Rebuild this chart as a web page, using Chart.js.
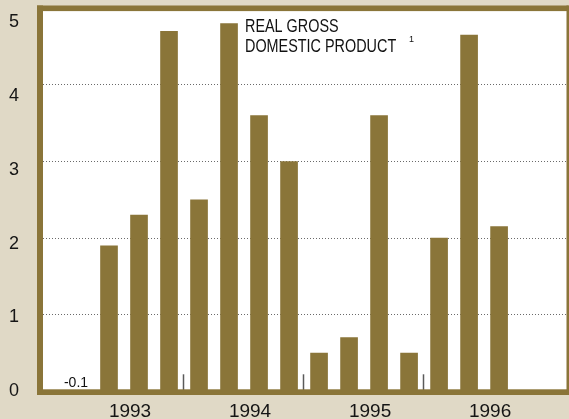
<!DOCTYPE html>
<html lang="en">
<head>
<meta charset="UTF-8">
<script src="https://cdn.jsdelivr.net/npm/chart.js"></script>
<title>Real GDP</title>
<style>
  html, body { margin: 0; padding: 0; background: #e0d9c6; }
  canvas { display: block; }
</style>
</head>
<body>
<canvas id="myChart" width="569" height="419"></canvas>
<script>
// quarterly change, percent, 1993 Q1 .. 1996 Q4
const years = ['1993', '1994', '1995', '1996'];
const gdp = [-0.1, 1.9, 2.3, 4.7,
             2.5, 4.8, 3.6, 3.0,
             0.5, 0.7, 3.6, 0.5,
             2.0, 4.65, 2.15, null];
const yTicks = [0, 1, 2, 3, 4, 5];

const olive = '#8a7539';
const font = '"Liberation Sans", Arial, sans-serif';

// no automatic label padding around the plot
const noPad = s => {
  s.paddingTop = 0; s.paddingBottom = 0;
  s.paddingLeft = 0; s.paddingRight = 0;
};

const decor = {
  id: 'decor',
  beforeDraw(chart) {
    const { ctx, chartArea: a } = chart;
    ctx.save();
    ctx.fillStyle = '#ffffff';
    ctx.fillRect(a.left, a.top, a.right - a.left, a.bottom - a.top);
    ctx.restore();
  },
  afterDatasetsDraw(chart) {
    const { ctx, chartArea: a } = chart;
    const x = chart.scales.x, y = chart.scales.y;
    ctx.save();

    // year separators
    ctx.strokeStyle = '#5a5a5a';
    ctx.lineWidth = 1.5;
    for (let k = 1; k < years.length; k++) {
      const px = Math.round(x.getPixelForValue(k * 4 - 0.55)) + 0.5;
      ctx.beginPath();
      ctx.moveTo(px, a.bottom - 17);
      ctx.lineTo(px, a.bottom);
      ctx.stroke();
    }

    // frame
    ctx.fillStyle = olive;
    ctx.fillRect(a.left - 3, a.top - 2.8, 6, a.bottom - a.top + 6.5);
    ctx.fillRect(a.left - 3, a.top - 2.8, a.right - a.left + 4, 5.6);
    ctx.fillRect(a.left - 3, a.bottom - 2, a.right - a.left + 4, 5.7);
    ctx.fillRect(a.right - 1, a.top - 2.8, 3, a.bottom - a.top + 6.5);

    // negative value label
    ctx.fillStyle = '#111';
    ctx.font = '14px ' + font;
    ctx.textAlign = 'center';
    ctx.textBaseline = 'alphabetic';
    gdp.forEach((v, i) => {
      if (v !== null && v < 0) {
        ctx.fillText(v.toFixed(1), x.getPixelForValue(i) - 3, y.getPixelForValue(0) - 4);
      }
    });

    // title
    ctx.textAlign = 'left';
    ctx.font = '18px ' + font;
    const tx = a.left + 205;
    ctx.save();
    ctx.translate(tx, a.top + 24);
    ctx.scale(0.8, 1);
    ctx.fillText('REAL GROSS', 0, 0);
    ctx.fillText('DOMESTIC PRODUCT', 0, 19.5);
    ctx.restore();
    ctx.font = '9px ' + font;
    ctx.fillText('1', tx + 164, a.top + 34);

    ctx.restore();
  }
};

const ctx = document.getElementById('myChart').getContext('2d');
new Chart(ctx, {
  type: 'bar',
  data: {
    datasets: [{
      data: gdp.map((v, i) => ({ x: i, y: v })),
      backgroundColor: olive,
      borderWidth: 0,
      barThickness: 17,
      clip: 0
    }]
  },
  options: {
    responsive: false,
    animation: false,
    layout: { padding: { top: 8.3, right: 1.5, left: 0, bottom: 0 } },
    plugins: { legend: { display: false }, tooltip: { enabled: false } },
    scales: {
      x: {
        type: 'linear',
        offset: false,
        min: -1.3,
        max: 16.28,
        grid: { display: false, drawTicks: false },
        border: { display: false },
        afterBuildTicks: s => { s.ticks = years.map((yr, k) => ({ value: k * 4 + 1.7 })); },
        afterFit: s => { s.height = 27.7; noPad(s); },
        ticks: {
          autoSkip: false,
          maxRotation: 0,
          padding: 9,
          color: '#151515',
          font: { family: font, size: 19 },
          callback: (v, i) => years[i]
        }
      },
      y: {
        min: 0,
        max: 5,
        afterBuildTicks: s => { s.ticks = yTicks.map(v => ({ value: v })); },
        afterFit: s => { s.width = 0; noPad(s); },
        ticks: { display: false },
        grid: {
          drawTicks: false,
          lineWidth: 1,
          color: c => (c.tick && c.tick.value > 0 && c.tick.value < 5) ? '#6a6a6a' : 'rgba(0,0,0,0)'
        },
        border: { display: false, dash: [1, 2] }
      },
      yl: {
        position: 'left',
        min: 0,
        max: 5.19,
        afterBuildTicks: s => { s.ticks = yTicks.map(v => ({ value: v })); },
        afterFit: s => { s.width = 40; noPad(s); },
        grid: { display: false, drawTicks: false },
        border: { display: false },
        ticks: {
          padding: 21,
          color: '#151515',
          font: { family: font, size: 18 }
        }
      }
    }
  },
  plugins: [decor]
});
</script>
</body>
</html>
